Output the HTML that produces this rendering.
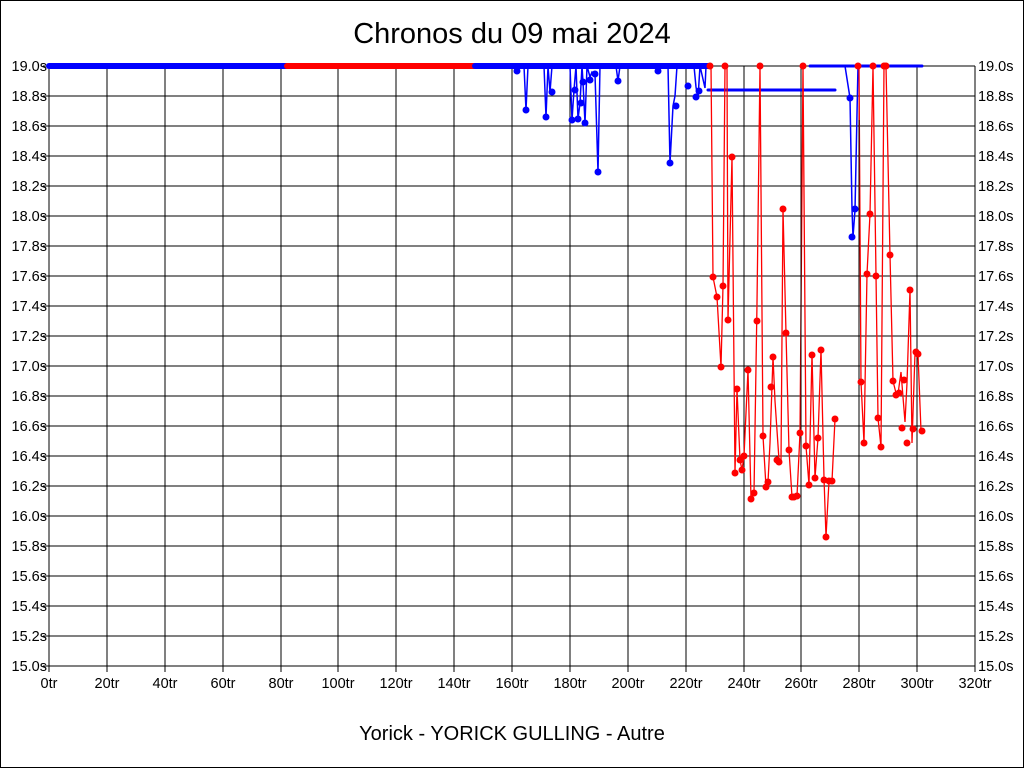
<!DOCTYPE html>
<html><head><meta charset="utf-8"><style>
body{margin:0;background:#fff}
svg{display:block;font-family:"Liberation Sans",sans-serif}
</style></head><body>
<svg width="1024" height="768" viewBox="0 0 1024 768" xmlns="http://www.w3.org/2000/svg">
<rect x="0.5" y="0.5" width="1023" height="767" fill="#fff" stroke="#000"/>
<text x="512" y="43" font-size="29" text-anchor="middle">Chronos du 09 mai 2024</text>
<text x="512" y="740" font-size="20" text-anchor="middle">Yorick - YORICK GULLING - Autre</text>
<g stroke="#000" stroke-width="1" shape-rendering="crispEdges">
<path d="M49 66H975M49 96H975M49 126H975M49 156H975M49 186H975M49 216H975M49 246H975M49 276H975M49 306H975M49 336H975M49 366H975M49 396H975M49 426H975M49 456H975M49 486H975M49 516H975M49 546H975M49 576H975M49 606H975M49 636H975M49 666H975"/>
<path d="M49 66V672M107 66V672M165 66V672M223 66V672M281 66V672M338 66V672M396 66V672M454 66V672M512 66V672M570 66V672M628 66V672M686 66V672M744 66V672M801 66V672M859 66V672M917 66V672M975 66V672"/>
<path d="M43 66H49M43 96H49M43 126H49M43 156H49M43 186H49M43 216H49M43 246H49M43 276H49M43 306H49M43 336H49M43 366H49M43 396H49M43 426H49M43 456H49M43 486H49M43 516H49M43 546H49M43 576H49M43 606H49M43 636H49M43 666H49"/>
</g>
<g font-size="14.5" text-anchor="end" fill="#000">
<text x="47" y="71">19.0s</text><text x="47" y="101">18.8s</text><text x="47" y="131">18.6s</text><text x="47" y="161">18.4s</text><text x="47" y="191">18.2s</text><text x="47" y="221">18.0s</text><text x="47" y="251">17.8s</text><text x="47" y="281">17.6s</text><text x="47" y="311">17.4s</text><text x="47" y="341">17.2s</text><text x="47" y="371">17.0s</text><text x="47" y="401">16.8s</text><text x="47" y="431">16.6s</text><text x="47" y="461">16.4s</text><text x="47" y="491">16.2s</text><text x="47" y="521">16.0s</text><text x="47" y="551">15.8s</text><text x="47" y="581">15.6s</text><text x="47" y="611">15.4s</text><text x="47" y="641">15.2s</text><text x="47" y="671">15.0s</text>
</g>
<g font-size="14.5" text-anchor="start" fill="#000">
<text x="978" y="71">19.0s</text><text x="978" y="101">18.8s</text><text x="978" y="131">18.6s</text><text x="978" y="161">18.4s</text><text x="978" y="191">18.2s</text><text x="978" y="221">18.0s</text><text x="978" y="251">17.8s</text><text x="978" y="281">17.6s</text><text x="978" y="311">17.4s</text><text x="978" y="341">17.2s</text><text x="978" y="371">17.0s</text><text x="978" y="401">16.8s</text><text x="978" y="431">16.6s</text><text x="978" y="461">16.4s</text><text x="978" y="491">16.2s</text><text x="978" y="521">16.0s</text><text x="978" y="551">15.8s</text><text x="978" y="581">15.6s</text><text x="978" y="611">15.4s</text><text x="978" y="641">15.2s</text><text x="978" y="671">15.0s</text>
</g>
<g font-size="14.5" text-anchor="middle" fill="#000">
<text x="49" y="688">0tr</text><text x="107" y="688">20tr</text><text x="165" y="688">40tr</text><text x="223" y="688">60tr</text><text x="281" y="688">80tr</text><text x="338" y="688">100tr</text><text x="396" y="688">120tr</text><text x="454" y="688">140tr</text><text x="512" y="688">160tr</text><text x="570" y="688">180tr</text><text x="628" y="688">200tr</text><text x="686" y="688">220tr</text><text x="744" y="688">240tr</text><text x="801" y="688">260tr</text><text x="859" y="688">280tr</text><text x="917" y="688">300tr</text><text x="975" y="688">320tr</text>
</g>
<g stroke-width="6" stroke-linecap="round">
<line x1="49" y1="66" x2="287" y2="66" stroke="#00f"/>
<line x1="287" y1="66" x2="475" y2="66" stroke="#f00"/>
<line x1="475" y1="66" x2="708" y2="66" stroke="#00f"/>
<line x1="810" y1="66" x2="922" y2="66" stroke="#00f" stroke-width="3"/>
<line x1="708" y1="90" x2="835" y2="90" stroke="#00f" stroke-width="3"/>
</g>
<g stroke="#00f" stroke-width="1.5" fill="none">
<polyline points="515,66 517,71 520,66 524,66 526,110 528,66 544,66 546,117 548,66 550,92 552,66 570,66 572,120 574,90 576,66 578,119 580,103 582,66 583,82 585,123 587,66 590,77 592,72 595,74 598,172 600,66 616,66 618,81 620,66 656,66 658,71 661,66 668,66 670,163 673,106 675,96 677,66 694,66 696,87 698,98 700,66 705,88 706,66"/>
<polyline points="845,66 850,98 852,209 853,237 855,210 858,66"/>
</g>
<g fill="#00f">
<circle cx="517" cy="71" r="3.5"/><circle cx="526" cy="110" r="3.5"/><circle cx="546" cy="117" r="3.5"/><circle cx="552" cy="92" r="3.5"/><circle cx="572" cy="120" r="3.5"/><circle cx="575" cy="90" r="3.5"/><circle cx="578" cy="119" r="3.5"/><circle cx="581" cy="103" r="3.5"/><circle cx="583" cy="82" r="3.5"/><circle cx="585" cy="123" r="3.5"/><circle cx="590" cy="80" r="3.5"/><circle cx="595" cy="74" r="3.5"/><circle cx="598" cy="172" r="3.5"/><circle cx="618" cy="81" r="3.5"/><circle cx="658" cy="71" r="3.5"/><circle cx="670" cy="163" r="3.5"/><circle cx="676" cy="106" r="3.5"/><circle cx="688" cy="86" r="3.5"/><circle cx="696" cy="97" r="3.5"/><circle cx="699" cy="91" r="3.5"/><circle cx="850" cy="98" r="3.5"/><circle cx="852" cy="237" r="3.5"/><circle cx="855" cy="209" r="3.5"/>
</g>
<g stroke="#f00" stroke-width="1.3" fill="none">
<polyline points="708,66 711,66 713,277 717,297 721,367 723,286 725,66 727,66 728,320 732,157 735,473 737,389 740,460 742,470 744,456 748,370 751,499 754,493 757,303 760,66 763,436 766,487 768,482 770,443 773,357 775,401 779,460 781,462 783,209 786,333 789,450 792,497 794,497 797,496 800,433 803,66 806,446 809,485 812,354 815,478 818,438 821,350 824,478 826,537 829,481 832,481 835,419"/>
<polyline points="855,66 859,66 861,382 864,443 867,274 870,214 873,66 876,275 878,418 881,447 884,66 886,66 890,255 893,381 896,393 898,394 901,372 905,422 907,383 910,290 912,443 915,353 918,354 921,431"/>
</g>
<line x1="801" y1="150" x2="801" y2="450" stroke="#000" stroke-width="1"/>
<line x1="859" y1="120" x2="859" y2="300" stroke="#000" stroke-width="1"/>
<g fill="#f00">
<circle cx="710" cy="66" r="3.5"/><circle cx="725" cy="66" r="3.5"/><circle cx="760" cy="66" r="3.5"/><circle cx="803" cy="66" r="3.5"/><circle cx="858" cy="66" r="3.5"/><circle cx="873" cy="66" r="3.5"/><circle cx="884" cy="66" r="3.5"/><circle cx="886" cy="66" r="3.5"/>
<circle cx="713" cy="277" r="3.5"/><circle cx="717" cy="297" r="3.5"/><circle cx="721" cy="367" r="3.5"/><circle cx="723" cy="286" r="3.5"/><circle cx="728" cy="320" r="3.5"/><circle cx="732" cy="157" r="3.5"/><circle cx="735" cy="473" r="3.5"/><circle cx="737" cy="389" r="3.5"/><circle cx="740" cy="460" r="3.5"/><circle cx="742" cy="470" r="3.5"/><circle cx="744" cy="456" r="3.5"/><circle cx="748" cy="370" r="3.5"/><circle cx="751" cy="499" r="3.5"/><circle cx="754" cy="493" r="3.5"/><circle cx="757" cy="321" r="3.5"/><circle cx="763" cy="436" r="3.5"/><circle cx="766" cy="487" r="3.5"/><circle cx="768" cy="482" r="3.5"/><circle cx="771" cy="387" r="3.5"/><circle cx="773" cy="357" r="3.5"/><circle cx="777" cy="460" r="3.5"/><circle cx="779" cy="462" r="3.5"/><circle cx="783" cy="209" r="3.5"/><circle cx="786" cy="333" r="3.5"/><circle cx="789" cy="450" r="3.5"/><circle cx="792" cy="497" r="3.5"/><circle cx="794" cy="497" r="3.5"/><circle cx="797" cy="496" r="3.5"/><circle cx="800" cy="433" r="3.5"/><circle cx="806" cy="446" r="3.5"/><circle cx="809" cy="485" r="3.5"/><circle cx="812" cy="355" r="3.5"/><circle cx="815" cy="478" r="3.5"/><circle cx="818" cy="438" r="3.5"/><circle cx="821" cy="350" r="3.5"/><circle cx="824" cy="480" r="3.5"/><circle cx="826" cy="537" r="3.5"/><circle cx="829" cy="481" r="3.5"/><circle cx="832" cy="481" r="3.5"/><circle cx="835" cy="419" r="3.5"/>
<circle cx="861" cy="382" r="3.5"/><circle cx="864" cy="443" r="3.5"/><circle cx="867" cy="274" r="3.5"/><circle cx="870" cy="214" r="3.5"/><circle cx="876" cy="276" r="3.5"/><circle cx="878" cy="418" r="3.5"/><circle cx="881" cy="447" r="3.5"/><circle cx="890" cy="255" r="3.5"/><circle cx="893" cy="381" r="3.5"/><circle cx="896" cy="395" r="3.5"/><circle cx="899" cy="393" r="3.5"/><circle cx="904" cy="380" r="3.5"/><circle cx="902" cy="428" r="3.5"/><circle cx="907" cy="443" r="3.5"/><circle cx="910" cy="290" r="3.5"/><circle cx="913" cy="429" r="3.5"/><circle cx="916" cy="352" r="3.5"/><circle cx="918" cy="354" r="3.5"/><circle cx="922" cy="431" r="3.5"/>
</g>
</svg>
</body></html>
